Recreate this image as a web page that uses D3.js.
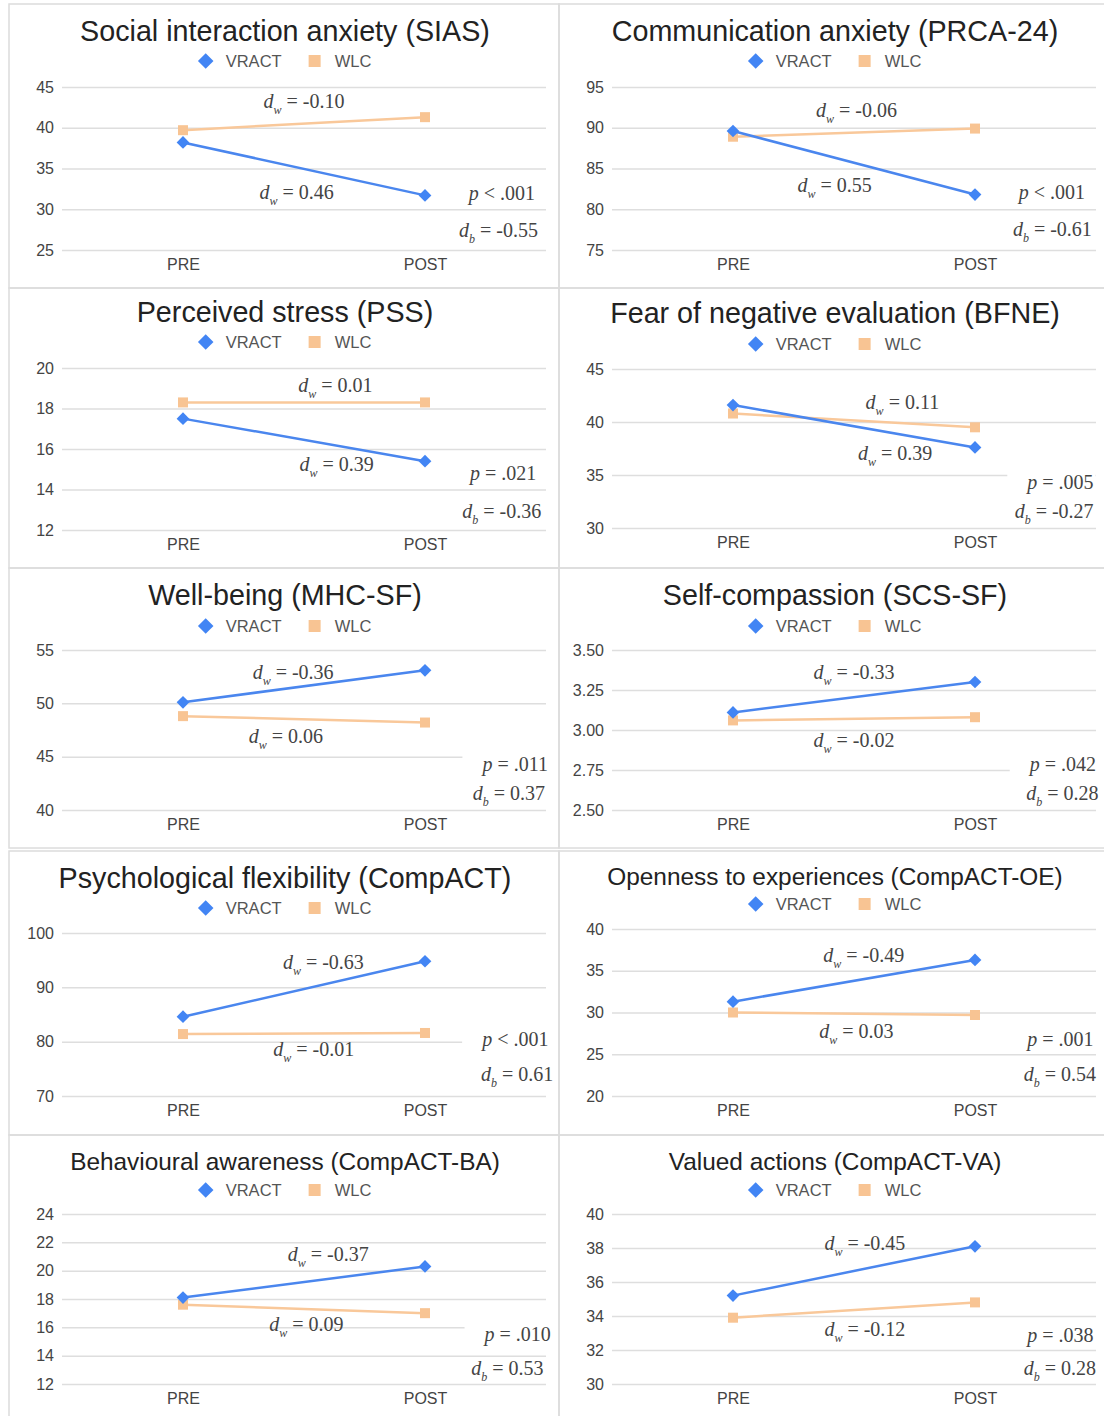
<!DOCTYPE html>
<html>
<head>
<meta charset="utf-8">
<script src="https://cdn.jsdelivr.net/npm/d3@7"></script>
<style>
  body { margin: 0; background: #fff; }
  svg text { font-family: "Liberation Sans", Arial, sans-serif; }
  .note text, text.note { font-family: "Liberation Serif", "Times New Roman", serif; }
</style>
</head>
<body>
<div id="chart"></div>
<script>
// ---- data ----
var titles = [
  "Social interaction anxiety (SIAS)", "Communication anxiety (PRCA-24)",
  "Perceived stress (PSS)", "Fear of negative evaluation (BFNE)",
  "Well-being (MHC-SF)", "Self-compassion (SCS-SF)",
  "Psychological flexibility (CompACT)", "Openness to experiences (CompACT-OE)",
  "Behavioural awareness (CompACT-BA)", "Valued actions (CompACT-VA)"
];
var groups = ["VRACT", "WLC"];
var times = ["PRE", "POST"];

// means at PRE and POST
var vract = [[38.2, 31.7], [89.6, 81.8], [17.5, 15.4], [41.6, 37.6], [50.1, 53.1],
             [3.11, 3.30], [84.6, 94.8], [31.3, 36.3], [18.1, 20.3], [35.2, 38.1]];
var wlc = [[39.7, 41.3], [88.9, 89.9], [18.3, 18.3], [40.8, 39.5], [48.8, 48.2],
           [3.06, 3.08], [81.4, 81.6], [30.0, 29.7], [17.6, 17.0], [33.9, 34.8]];

// y ticks per panel
var yTicks = [[25, 30, 35, 40, 45], [75, 80, 85, 90, 95], [12, 14, 16, 18, 20], [30, 35, 40, 45],
              [40, 45, 50, 55], [2.5, 2.75, 3, 3.25, 3.5], [70, 80, 90, 100], [20, 25, 30, 35, 40],
              [12, 14, 16, 18, 20, 22, 24], [30, 32, 34, 36, 38, 40]];
var tickFormats = ["d", "d", "d", "d", "d", ".2f", "d", "d", "d", "d"];

// effect sizes and p values
var dwVract = ["0.46", "0.55", "0.39", "0.39", "-0.36", "-0.33", "-0.63", "-0.49", "-0.37", "-0.45"];
var dwWlc = ["-0.10", "-0.06", "0.01", "0.11", "0.06", "-0.02", "-0.01", "0.03", "0.09", "-0.12"];
var pValues = ["< .001", "< .001", "= .021", "= .005", "= .011", "= .042", "< .001", "= .001", "= .010", "= .038"];
var dbValues = ["-0.55", "-0.61", "-0.36", "-0.27", "0.37", "0.28", "0.61", "0.54", "0.53", "0.28"];

// ---- layout ----
var width = 1104, height = 1416;
var cellX = [9, 559];
var cellW = [550, 560];
var cellTop = [4, 288, 568, 851, 1135];
var cellBottom = [288, 568, 848, 1135, 1430];
var plotX = [[62, 546], [612, 1096]];
var plotY = [[87, 250], [87, 250], [368, 530], [369, 528], [650, 810],
             [650, 810], [933, 1096], [929, 1096], [1214, 1384], [1214, 1384]];
var titleY = [31, 31, 312, 313, 595, 595, 878, 876, 1161, 1161];
var legendY = [61, 61, 342, 344, 626, 626, 908, 904, 1190, 1190];
var titleSize = [28.7, 28.7, 28.7, 28.7, 28.7, 28.7, 28.7, 24.4, 24.4, 24.4];

// annotation anchors: [fraction from PRE to POST, y value]
var dwVractPos = [[0.47, 31.3], [0.42, 82.1], [0.635, 14.9], [0.67, 36.4], [0.455, 52.3],
                  [0.50, 3.32], [0.58, 93.4], [0.54, 36.05], [0.60, 20.7], [0.545, 37.9]];
var dwWlcPos = [[0.50, 42.4], [0.51, 91.3], [0.63, 18.8], [0.70, 41.2], [0.425, 46.3],
                [0.50, 2.894], [0.54, 77.4], [0.51, 26.95], [0.51, 15.74], [0.545, 32.8]];
var pPos = [[1.455, 31.1], [1.455, 81.25], [1.46, 14.47], [1.49, 33.7], [1.508, 43.66],
            [1.50, 2.744], [1.51, 79.2], [1.49, 25.99], [1.52, 15.04], [1.49, 32.47]];
var dbPos = [[1.467, 26.6], [1.483, 76.7], [1.48, 12.6], [1.49, 30.94], [1.496, 40.94],
             [1.51, 2.5625], [1.53, 72.76], [1.50, 21.8], [1.49, 12.64], [1.50, 30.53]];

var color = d3.scaleOrdinal().domain(groups).range(["#4285f4", "#f8c493"]);
var lineColor = d3.scaleOrdinal().domain(groups).range(["#4a86ee", "#f9c89a"]);

var svg = d3.select("#chart")
  .append("svg")
  .attr("width", width)
  .attr("height", height);

// panel borders
titles.forEach(function(t, i) {
  var col = i % 2, row = Math.floor(i / 2);
  svg.append("rect")
    .attr("x", cellX[col])
    .attr("y", cellTop[row])
    .attr("width", cellW[col])
    .attr("height", cellBottom[row] - cellTop[row])
    .style("fill", "none")
    .style("stroke", "#dcdcdc")
    .style("stroke-width", 1.5);
});

// marker shapes
function marker(sel, group, big) {
  if (group == "VRACT") {
    var a = big ? 11 : 9;
    sel.append("path")
      .attr("d", d3.symbol().type(d3.symbolSquare).size(a * a)())
      .attr("transform", "rotate(45)")
      .style("fill", color(group));
  } else {
    var s = big ? 12 : 10;
    sel.append("rect")
      .attr("x", -s / 2).attr("y", -s / 2)
      .attr("width", s).attr("height", s)
      .style("fill", color(group));
  }
}

// d with subscript
function effectText(sel, sub, value) {
  sel.append("tspan").style("font-style", "italic").text("d");
  sel.append("tspan").style("font-style", "italic").style("font-size", "12px").attr("dy", 6).text(sub);
  sel.append("tspan").attr("dy", -6).text(" = " + value);
}

titles.forEach(function(title, i) {
  var col = i % 2;
  // titles and legends sit a little left of the plot centre
  var cx = (plotX[col][0] + plotX[col][1]) / 2 - 19;
  var g = svg.append("g");

  // title
  g.append("text")
    .attr("x", cx)
    .attr("y", titleY[i])
    .attr("dy", "0.36em")
    .attr("text-anchor", "middle")
    .style("font-size", titleSize[i] + "px")
    .style("fill", "#222")
    .text(title);

  // legend
  var leg = g.append("g");
  var offset = 0;
  groups.forEach(function(grp) {
    var item = leg.append("g").attr("transform", "translate(" + offset + ",0)");
    marker(item.append("g").attr("transform", "translate(7,0)"), grp, true);
    var txt = item.append("text")
      .attr("x", 27)
      .attr("dy", "0.35em")
      .style("font-size", "16.5px")
      .style("fill", "#555")
      .text(grp);
    offset += 27 + txt.node().getComputedTextLength() + 26;
  });
  offset -= 26;
  leg.attr("transform", "translate(" + (cx - offset / 2) + "," + legendY[i] + ")");

  // scales
  var x = d3.scalePoint().domain(times).range(plotX[col]).padding(0.5);
  var yt = yTicks[i];
  var y = d3.scaleLinear().domain([d3.min(yt), d3.max(yt)]).range([plotY[i][1], plotY[i][0]]);

  // y grid + labels
  var yAxis = g.append("g")
    .attr("transform", "translate(" + plotX[col][0] + ",0)")
    .call(d3.axisLeft(y).tickValues(yt).tickFormat(d3.format(tickFormats[i]))
      .tickSize(-(plotX[col][1] - plotX[col][0])).tickPadding(8));
  yAxis.select(".domain").remove();
  yAxis.selectAll("line").style("stroke", "#dedede").style("stroke-width", 1.5);
  yAxis.selectAll("text").style("font-size", "16px").style("fill", "#444")
    .style("font-family", "'Liberation Sans', Arial, sans-serif");

  // x labels
  var xAxis = g.append("g")
    .attr("transform", "translate(0," + plotY[i][1] + ")")
    .call(d3.axisBottom(x).tickSize(0).tickPadding(9));
  xAxis.select(".domain").remove();
  xAxis.selectAll("text").style("font-size", "16px").style("fill", "#444")
    .style("font-family", "'Liberation Sans', Arial, sans-serif");

  // lines and markers (WLC under VRACT)
  var series = [{ key: "WLC", values: wlc[i] }, { key: "VRACT", values: vract[i] }];
  var line = d3.line()
    .x(function(d, j) { return x(times[j]); })
    .y(function(d) { return y(d); });

  series.forEach(function(s) {
    g.append("path")
      .datum(s.values)
      .attr("d", line)
      .style("fill", "none")
      .style("stroke", lineColor(s.key))
      .style("stroke-width", 2.5);
    s.values.forEach(function(v, j) {
      marker(g.append("g").attr("transform", "translate(" + x(times[j]) + "," + y(v) + ")"), s.key, false);
    });
  });

  // annotations
  var x0 = x("PRE"), x1 = x("POST");
  function ax(f) { return x0 + f * (x1 - x0); }
  var notes = g.append("g").attr("class", "note").style("font-size", "20px").style("fill", "#444");

  var t1 = notes.append("text")
    .attr("x", ax(dwVractPos[i][0])).attr("y", y(dwVractPos[i][1]))
    .attr("text-anchor", "middle");
  effectText(t1, "w", dwVract[i]);

  var t2 = notes.append("text")
    .attr("x", ax(dwWlcPos[i][0])).attr("y", y(dwWlcPos[i][1]))
    .attr("text-anchor", "middle");
  effectText(t2, "w", dwWlc[i]);

  // p and d_b sit on white boxes
  var tp = notes.append("text")
    .attr("x", ax(pPos[i][0])).attr("y", y(pPos[i][1]))
    .attr("text-anchor", "end");
  tp.append("tspan").style("font-style", "italic").text("p");
  tp.append("tspan").text(" " + pValues[i]);

  var tb = notes.append("text")
    .attr("x", ax(dbPos[i][0])).attr("y", y(dbPos[i][1]))
    .attr("text-anchor", "end");
  effectText(tb, "b", dbValues[i]);

  [tp, tb].forEach(function(t) {
    var bb = t.node().getBBox();
    notes.insert("rect", "text")
      .attr("x", bb.x - 18)
      .attr("y", bb.y + 1)
      .attr("width", bb.width + 20)
      .attr("height", bb.height - 4)
      .style("fill", "#fff");
  });
});
</script>
</body>
</html>
